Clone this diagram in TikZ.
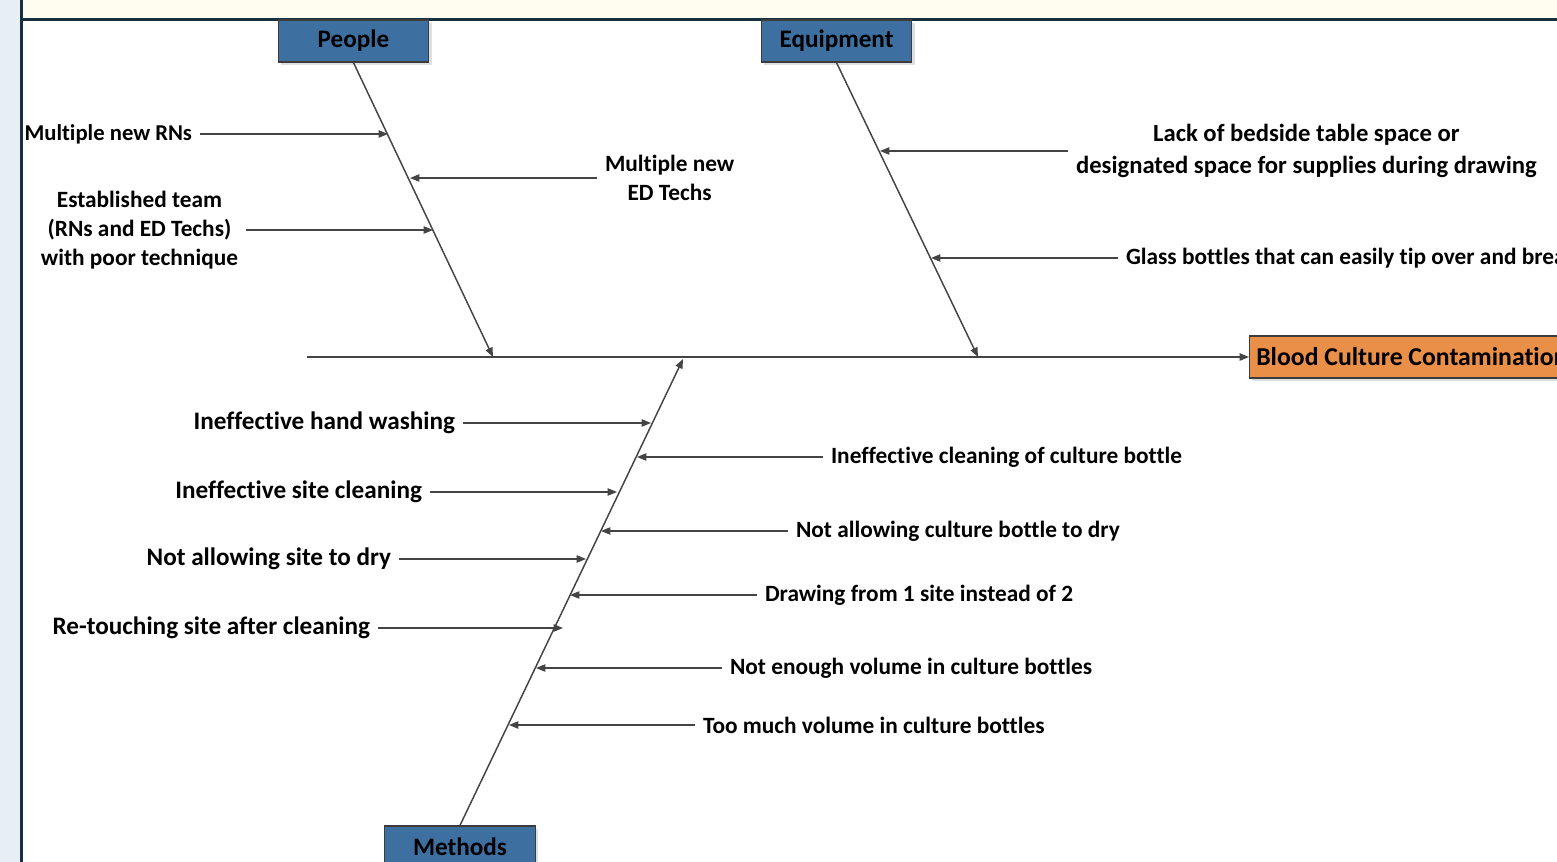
\documentclass[tikz,border=0pt]{standalone}
\usepackage{fontspec}
\setmainfont{Carlito}[Ligatures=NoCommon]
\usetikzlibrary{arrows.meta,positioning,shadows}

\definecolor{boxblue}{HTML}{3D6FA1}
\definecolor{boxorange}{HTML}{E98F47}
\definecolor{edgegray}{HTML}{3C3C3C}
\definecolor{linegray}{HTML}{444444}
\definecolor{paneblue}{HTML}{E6EEF6}
\definecolor{paneyellow}{HTML}{FFFDEF}
\definecolor{panedark}{HTML}{16303F}

\begin{document}
\begin{tikzpicture}[
    x = 0.75pt, % one pixel of the sheet
    y = -0.75pt, % y runs downwards
    > = {Triangle[length=7pt,width=5.5pt]}, % arrow head style
    line width = 0.95pt, % line style
    font = \fontsize{17.5}{21.75}\selectfont\bfseries
    ]

    \tikzset{
    category/.style = {draw = edgegray, fill = boxblue, minimum width = 113pt,
        minimum height = 31.5pt, inner sep = 0pt,
        font = \fontsize{18.9}{22}\selectfont\bfseries,
        drop shadow = {shadow xshift = 2pt, shadow yshift = -2pt, opacity = 0.25}},
    effect/.style = {draw = edgegray, fill = boxorange, minimum height = 31.5pt,
        inner xsep = 5pt, inner ysep = 0pt,
        font = \fontsize{19.3}{22}\selectfont\bfseries,
        drop shadow = {shadow xshift = 2pt, shadow yshift = -2pt, opacity = 0.25}},
    cause/.style = {align = center, inner xsep = 6pt, inner ysep = 1pt, outer sep = 0pt},
    bigcause/.style = {cause, font = \fontsize{18.9}{22}\selectfont\bfseries},
    every edge/.append style = {draw = linegray}
    }

    \useasboundingbox (0,0) rectangle (1557,862);
    \clip (0,0) rectangle (1557,862);

    % frame of the sheet
    \fill[paneblue] (0,0) rectangle (20,862);
    \fill[paneyellow] (21,0) rectangle (1557,18);
    \draw[panedark, line width = 2pt] (21.5,19.5) -- (1557,19.5);
    \draw[panedark, line width = 2.2pt] (21.5,0) -- (21.5,862);

    % head and categories
    \node[effect, anchor = west] (effect) at (1249,357) {Blood Culture Contamination};
    \node[category] (people) at (353.5,41) {People};
    \node[category] (equip) at (836.5,41) {Equipment};
    \node[category] (methods) at (460,847) {Methods};

    \coordinate (tail) at (307,357);
    \coordinate (pend) at (493,357);
    \coordinate (eend) at (978,357);
    \coordinate (mend) at (683,359);

    \path[->, line width = 1.1pt] (tail) edge (effect);
    \path[->, line width = 1.1pt] (people.south) edge (pend);
    \path[->, line width = 1.1pt] (equip.south) edge (eend);
    \path[->, line width = 1.1pt] (methods.north) edge (mend);

    % people
    \coordinate (p1) at (388,134);
    \coordinate (p2) at (410,178);
    \coordinate (p3) at (433,230);
    \node[cause, anchor = east, font = \fontsize{17}{21}\selectfont\bfseries] (rns) at (200,134) {Multiple new RNs};
    \node[cause, anchor = west] (techs) at (597,178) {Multiple new\\ED Techs};
    \node[cause, anchor = east] (team) at (246,230) {Established team\\(RNs and ED Techs)\\with poor technique};
    \path[->] (rns) edge (p1);
    \path[->] (techs) edge (p2);
    \path[->] (team) edge (p3);

    % equipment
    \coordinate (e1) at (880,151);
    \coordinate (e2) at (931,258);
    \node[cause, anchor = west, font = \fontsize{18.5}{23.5}\selectfont\bfseries] (space) at (1068,151) {Lack of bedside table space or\\designated space for supplies during drawing};
    \node[cause, anchor = west] (glass) at (1118,258) {Glass bottles that can easily tip over and break};
    \path[->] (space) edge (e1);
    \path[->] (glass) edge (e2);

    % methods
    \coordinate (m1) at (651,423);
    \coordinate (m2) at (617,492);
    \coordinate (m3) at (586,559);
    \coordinate (m4) at (563,628);
    \coordinate (m5) at (637,457);
    \coordinate (m6) at (601,531);
    \coordinate (m7) at (570,595);
    \coordinate (m8) at (536,668);
    \coordinate (m9) at (509,725);
    \node[bigcause, anchor = east] (hand) at (463,423) {Ineffective hand washing};
    \node[bigcause, anchor = east] (site) at (430,492) {Ineffective site cleaning};
    \node[bigcause, anchor = east] (sitedry) at (399,559) {Not allowing site to dry};
    \node[bigcause, anchor = east] (touch) at (378,628) {Re-touching site after cleaning};
    \node[cause, anchor = west] (bottle) at (823,457) {Ineffective cleaning of culture bottle};
    \node[cause, anchor = west] (bottledry) at (788,531) {Not allowing culture bottle to dry};
    \node[cause, anchor = west] (onesite) at (757,595) {Drawing from 1 site instead of 2};
    \node[cause, anchor = west] (low) at (722,668) {Not enough volume in culture bottles};
    \node[cause, anchor = west] (high) at (695,725) {Too much volume in culture bottles};
    \path[->] (hand) edge (m1);
    \path[->] (site) edge (m2);
    \path[->] (sitedry) edge (m3);
    \path[->] (touch) edge (m4);
    \path[->] (bottle) edge (m5);
    \path[->] (bottledry) edge (m6);
    \path[->] (onesite) edge (m7);
    \path[->] (low) edge (m8);
    \path[->] (high) edge (m9);
\end{tikzpicture}
\end{document}
